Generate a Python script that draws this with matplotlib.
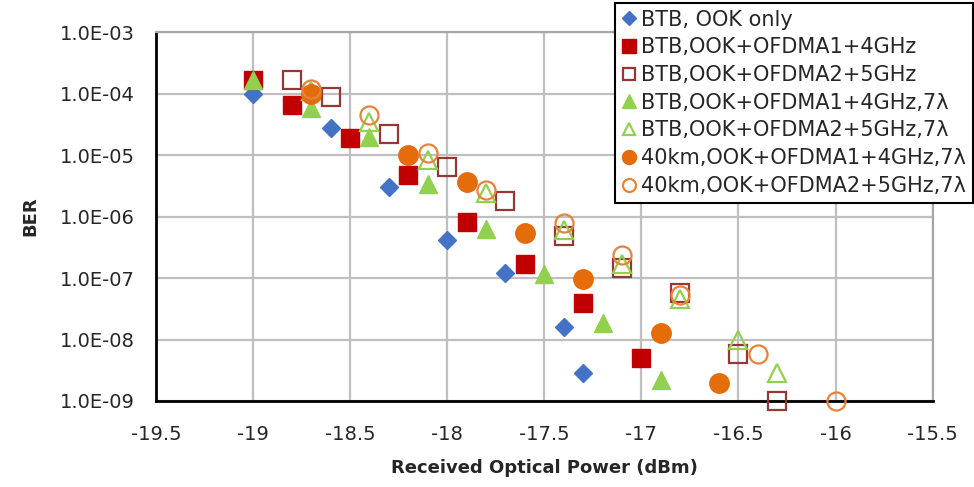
import matplotlib
matplotlib.use("Agg")
import matplotlib.pyplot as plt
from matplotlib.ticker import FixedLocator, FuncFormatter, NullLocator

plt.rcParams['font.family'] = ['DejaVu Sans']

# ---- data ----
x_ook = [-19.0, -18.6, -18.3, -18.0, -17.7, -17.4, -17.3]
y_ook = [1.0e-4, 2.8e-5, 3.0e-6, 4.2e-7, 1.2e-7, 1.6e-8, 2.9e-9]

x_btb1 = [-19.0, -18.8, -18.5, -18.2, -17.9, -17.6, -17.3, -17.0]
y_btb1 = [1.7e-4, 6.6e-5, 1.9e-5, 4.8e-6, 8.1e-7, 1.7e-7, 4.0e-8, 5.0e-9]

x_btb2 = [-18.8, -18.6, -18.3, -18.0, -17.7, -17.4, -17.1, -16.8, -16.5, -16.3]
y_btb2 = [1.7e-4, 8.7e-5, 2.2e-5, 6.5e-6, 1.8e-6, 4.8e-7, 1.45e-7, 5.8e-8, 5.9e-9, 1.0e-9]

x_btb1_7 = [-19.0, -18.7, -18.4, -18.1, -17.8, -17.5, -17.2, -16.9]
y_btb1_7 = [1.7e-4, 5.8e-5, 2.0e-5, 3.4e-6, 6.4e-7, 1.16e-7, 1.85e-8, 2.2e-9]

x_btb2_7 = [-18.7, -18.4, -18.1, -17.8, -17.4, -17.1, -16.8, -16.5, -16.3]
y_btb2_7 = [1.1e-4, 3.5e-5, 8.3e-6, 2.4e-6, 6.1e-7, 1.7e-7, 4.5e-8, 1.0e-8, 2.9e-9]

x_km1 = [-18.7, -18.2, -17.9, -17.6, -17.3, -16.9, -16.6]
y_km1 = [1.0e-4, 1.0e-5, 3.7e-6, 5.4e-7, 9.8e-8, 1.3e-8, 1.95e-9]

x_km2 = [-18.7, -18.4, -18.1, -17.8, -17.4, -17.1, -16.8, -16.4, -16.0]
y_km2 = [1.2e-4, 4.5e-5, 1.07e-5, 2.7e-6, 7.8e-7, 2.4e-7, 5.4e-8, 5.9e-9, 1.0e-9]

labels = ["BTB, OOK only",
          "BTB,OOK+OFDMA1+4GHz",
          "BTB,OOK+OFDMA2+5GHz",
          "BTB,OOK+OFDMA1+4GHz,7\u03bb",
          "BTB,OOK+OFDMA2+5GHz,7\u03bb",
          "40km,OOK+OFDMA1+4GHz,7\u03bb",
          "40km,OOK+OFDMA2+5GHz,7\u03bb"]

x_ticks = [-19.5, -19, -18.5, -18, -17.5, -17, -16.5, -16, -15.5]
y_ticks = [1e-9, 1e-8, 1e-7, 1e-6, 1e-5, 1e-4, 1e-3]

# ---- figure ----
fig = plt.figure(figsize=(9.74, 4.87), dpi=100)
ax = fig.add_axes([0.160, 0.1766, 0.7976, 0.7571])

blue = '#4472C4'
red = '#C00000'
brown = '#953735'
green = '#92D050'
orange = '#E46C0A'
orange2 = '#E8823A'

kw = dict(linestyle='none', clip_on=False, zorder=3)
ax.plot(x_ook, y_ook, marker='D', ms=9.2, color=blue, mec=blue, label=labels[0], **kw)
ax.plot(x_btb1, y_btb1, marker='s', ms=13.5, color=red, mec=red, label=labels[1], **kw)
ax.plot(x_btb2, y_btb2, marker='s', ms=12.5, mfc='none', mec=brown, mew=1.6, label=labels[2], **kw)
ax.plot(x_btb1_7, y_btb1_7, marker='^', ms=13.5, color=green, mec=green, label=labels[3], **kw)
ax.plot(x_btb2_7, y_btb2_7, marker='^', ms=12.5, mfc='none', mec=green, mew=1.6, label=labels[4], **kw)
ax.plot(x_km1, y_km1, marker='o', ms=14, color=orange, mec=orange, label=labels[5], **kw)
ax.plot(x_km2, y_km2, marker='o', ms=13, mfc='none', mec=orange2, mew=1.6, label=labels[6], **kw)

ax.set_yscale('log')
ax.set_xlim(-19.5, -15.5)
ax.set_ylim(1e-9, 1e-3)

ax.xaxis.set_major_locator(FixedLocator(x_ticks))
ax.xaxis.set_major_formatter(FuncFormatter(lambda v, p: f"{v:g}"))
ax.yaxis.set_major_locator(FixedLocator(y_ticks))
ax.yaxis.set_minor_locator(NullLocator())
ax.yaxis.set_major_formatter(FuncFormatter(lambda v, p: f"{v:.1E}"))

ax.grid(True, which='major', color='#BFBFBF', linewidth=1.6, zorder=0)
ax.set_axisbelow(True)
ax.tick_params(axis='both', which='both', length=0, labelsize=14, colors='#262626')
ax.tick_params(axis='y', pad=15)
ax.tick_params(axis='x', pad=17)

for s in ['left', 'bottom']:
    ax.spines[s].set_color('black')
    ax.spines[s].set_linewidth(2.0)
for s in ['top', 'right']:
    ax.spines[s].set_color('#A6A6A6')
    ax.spines[s].set_linewidth(1.6)

ax.set_xlabel("Received Optical Power (dBm)", fontsize=13, fontweight='bold',
              labelpad=11, color='#262626')
ax.set_ylabel("BER", fontsize=13, fontweight='bold', labelpad=15, color='#262626')

leg = ax.legend(loc='upper right', bbox_to_anchor=(973/974, 1 - 3/487),
                bbox_transform=fig.transFigure, borderaxespad=0,
                fancybox=False, framealpha=1, edgecolor='black',
                fontsize=15, markerscale=0.72, handlelength=0.7,
                handletextpad=0.25, labelspacing=0.37, borderpad=0.32,
                numpoints=1)
for t in leg.get_texts():
    t.set_color('#262626')
leg.get_frame().set_linewidth(1.5)
leg.set_zorder(5)

fig.savefig("out.png", dpi=100)
